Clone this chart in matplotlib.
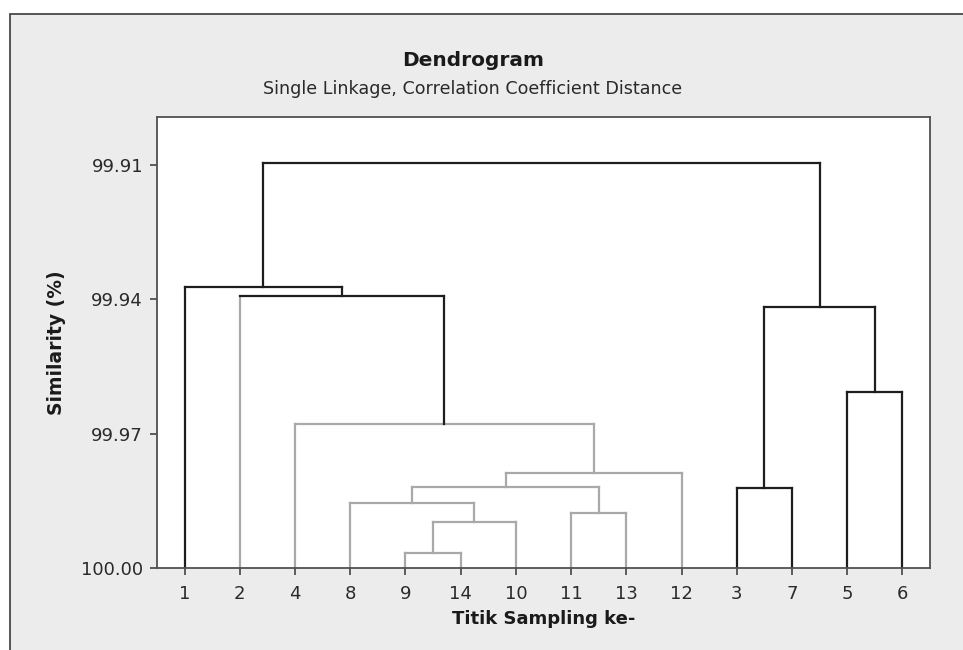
import matplotlib
matplotlib.use("Agg")
import matplotlib.pyplot as plt
from matplotlib.patches import Rectangle

# leaf order along the x axis
leaf_labels = ['1', '2', '4', '8', '9', '14', '10', '11', '13', '12', '3', '7', '5', '6']

# amalgamation steps: (cluster a, cluster b, similarity %), cluster named by any member leaf
merge_a = ['9', '9', '11', '8', '3', '8', '8', '4', '5', '2', '1', '3', '1']
merge_b = ['14', '10', '13', '9', '7', '11', '12', '8', '6', '4', '2', '5', '3']
merge_sim = [99.9966, 99.9897, 99.9877, 99.9855, 99.9821, 99.9819, 99.9788,
             99.9678, 99.9607, 99.9393, 99.9373, 99.9417, 99.9095]

# leaves drawn in light gray (cluster colouring)
gray_leaves = ['2', '4', '8', '9', '14', '10', '11', '13', '12']
gray_group = ['4', '8', '9', '14', '10', '11', '13', '12']

yticks = [99.91, 99.94, 99.97, 100.00]

black = '#1e1e1e'
gray = '#a9a9a9'
bg = '#ececec'

fig = plt.figure(figsize=(9.63, 6.5), dpi=100)
fig.patch.set_facecolor('white')
# gray panel with border on top/left (image is cropped right and bottom)
fig.patches.append(Rectangle((10 / 963, -0.05), 1.1, (650 - 14) / 650 + 0.05,
                             transform=fig.transFigure, facecolor=bg,
                             edgecolor='#3a3a3a', linewidth=1.2, zorder=-10))

ax = fig.add_axes([157 / 963, (650 - 568) / 650, 773 / 963, 451 / 650])
ax.set_facecolor('white')

# build the tree: each node has x, height, member leaves
nodes = {}
for i, lab in enumerate(leaf_labels):
    nodes[lab] = {'x': i + 1, 'h': 100.0, 'leaves': {lab}, 'leaf': lab}
owner = {lab: lab for lab in leaf_labels}  # leaf -> current cluster key

order = sorted(range(len(merge_sim)), key=lambda k: -merge_sim[k])
links = []
for k in order:
    ka, kb = owner[merge_a[k]], owner[merge_b[k]]
    na, nb = nodes[ka], nodes[kb]
    if na['x'] > nb['x']:
        na, nb = nb, na
    leaves = na['leaves'] | nb['leaves']
    is_gray = leaves <= set(gray_group)
    new = {'x': (na['x'] + nb['x']) / 2, 'h': merge_sim[k], 'leaves': leaves, 'leaf': None}
    key = 'n%d' % k
    nodes[key] = new
    for lab in leaves:
        owner[lab] = key
    links.append((na, nb, new, is_gray))

lw = 1.6
for na, nb, new, is_gray in links:
    hcol = gray if is_gray else black
    for child in (na, nb):
        if child['leaf'] is not None:
            col = gray if child['leaf'] in gray_leaves else black
        else:
            col = hcol
        ax.plot([child['x'], child['x']], [child['h'], new['h']], color=col,
                lw=lw, solid_capstyle='projecting', zorder=2 if col == black else 1)
    ax.plot([na['x'], nb['x']], [new['h'], new['h']], color=hcol, lw=lw,
            solid_capstyle='projecting', zorder=2 if hcol == black else 1)

ax.set_xlim(0.5, len(leaf_labels) + 0.5)
ax.set_ylim(100.0, 99.8993)
ax.set_xticks(range(1, len(leaf_labels) + 1))
ax.set_xticklabels(leaf_labels)
ax.set_yticks(yticks)
ax.set_yticklabels(['%.2f' % v for v in yticks])

for s in ax.spines.values():
    s.set_color('#505050')
    s.set_linewidth(1.3)
ax.tick_params(direction='out', length=5, width=1.3, color='#505050',
               labelsize=13, labelcolor='#2a2a2a')
ax.tick_params(axis='x', pad=7)
ax.tick_params(axis='y', pad=5)

ax.set_xlabel('Titik Sampling ke-', fontsize=13, fontweight='bold', color='#1a1a1a', labelpad=5)
ax.set_ylabel('Similarity (%)', fontsize=13.5, fontweight='bold', color='#1a1a1a', labelpad=11)

fig.text(473 / 963, 1 - 61 / 650, 'Dendrogram', ha='center', va='center',
         fontsize=14.5, fontweight='bold', color='#1a1a1a')
fig.text(473 / 963, 1 - 89 / 650, 'Single Linkage, Correlation Coefficient Distance',
         ha='center', va='center', fontsize=12.6, color='#2a2a2a')

fig.savefig('out.png', dpi=100, facecolor=fig.get_facecolor())
